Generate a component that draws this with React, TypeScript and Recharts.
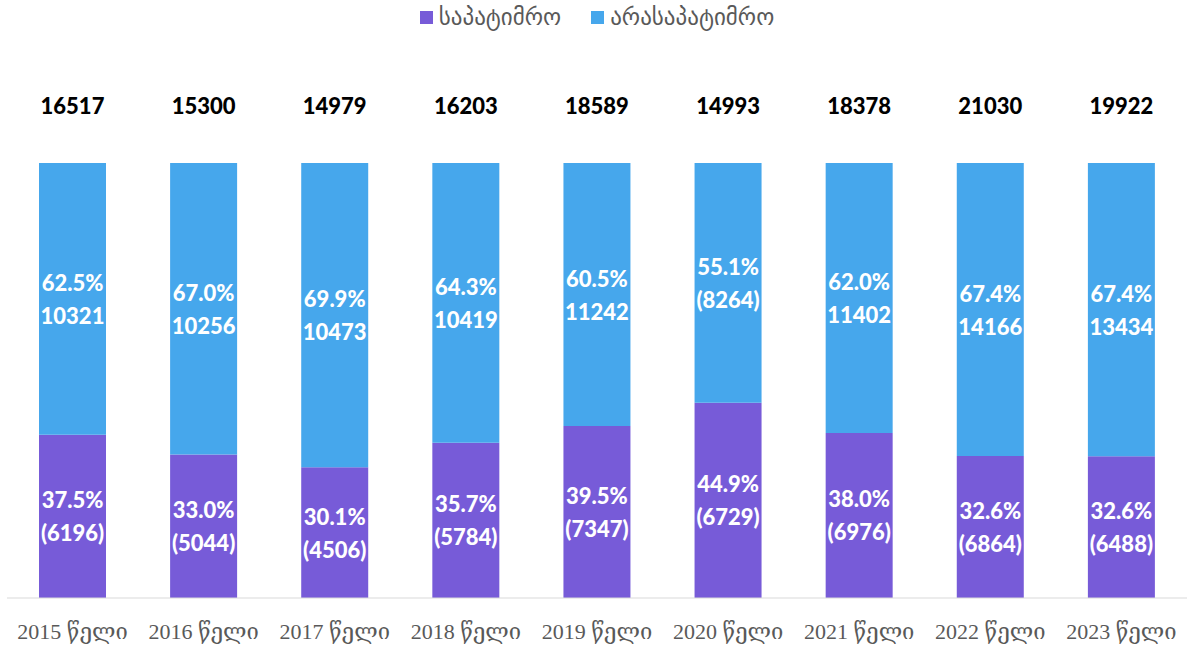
import React from 'react'
import { BarChart, Bar, XAxis, YAxis, Legend, LabelList } from 'recharts'

const years = ['2015 წელი', '2016 წელი', '2017 წელი', '2018 წელი', '2019 წელი', '2020 წელი', '2021 წელი', '2022 წელი', '2023 წელი']
const sentenced = [6196, 5044, 4506, 5784, 7347, 6729, 6976, 6864, 6488]
const notSentenced = [10321, 10256, 10473, 10419, 11242, 8264, 11402, 14166, 13434]
const totals = [16517, 15300, 14979, 16203, 18589, 14993, 18378, 21030, 19922]
const sentencedPct = ['37.5%', '33.0%', '30.1%', '35.7%', '39.5%', '44.9%', '38.0%', '32.6%', '32.6%']
const notSentencedPct = ['62.5%', '67.0%', '69.9%', '64.3%', '60.5%', '55.1%', '62.0%', '67.4%', '67.4%']
// the 2020 blue count is shown in brackets in the source
const notSentencedParens = [false, false, false, false, false, true, false, false, false]

const PURPLE = '#775bd8'
const BLUE = '#46a7ec'
const labelFont = 'Lato, "Open Sans", sans-serif'

const data = years.map((year, i) => ({
  year,
  sentenced: sentenced[i],
  notSentenced: notSentenced[i]
}))

const legendItems = [
  { name: 'საპატიმრო', color: PURPLE },
  { name: 'არასაპატიმრო', color: BLUE }
]

function segmentLabel(pct: string[], text: (i: number) => string) {
  return (props: any) => {
    const { x, y, width, height, index } = props
    const cx = x + width / 2
    const cy = y + height / 2
    return (
      <text
        textAnchor="middle"
        fill="#ffffff"
        fontFamily={labelFont}
        fontWeight={900}
        fontSize={22}
      >
        <tspan x={cx} y={cy - 8}>{pct[index]}</tspan>
        <tspan x={cx} y={cy + 25}>{text(index)}</tspan>
      </text>
    )
  }
}

const totalLabel = (props: any) => {
  const { x, width, index } = props
  return (
    <text
      x={x + width / 2}
      y={114}
      textAnchor="middle"
      fill="#000000"
      fontFamily={labelFont}
      fontWeight={900}
      fontSize={22}
    >
      {totals[index]}
    </text>
  )
}

const renderLegend = () => (
  <div style={{ display: 'flex', justifyContent: 'center', gap: 30, fontFamily: '"DejaVu Sans", sans-serif', fontSize: 23, color: '#595959' }}>
    {legendItems.map((item) => (
      <div key={item.name} style={{ display: 'flex', alignItems: 'center', gap: 6 }}>
        <span style={{ display: 'inline-block', width: 13, height: 13, background: item.color }} />
        <span>{item.name}</span>
      </div>
    ))}
  </div>
)

export default function App() {
  return (
    <div style={{ position: 'absolute', left: 0, top: 0, width: 1189, height: 646, background: '#fff' }}>
      <BarChart
        width={1189}
        height={646}
        data={data}
        stackOffset="expand"
        barSize={67}
        margin={{ top: 137, right: 2, bottom: 18, left: 7 }}
      >
        <XAxis
          dataKey="year"
          axisLine={{ stroke: '#d9d9d9' }}
          tickLine={false}
          tickMargin={19}
          height={30}
          tick={{ fill: '#595959', fontSize: 22, fontFamily: '"Liberation Serif", "DejaVu Serif", serif' }}
        />
        <YAxis hide domain={[0, 1]} />
        <Legend verticalAlign="top" align="center" wrapperStyle={{ top: 4 }} content={renderLegend} />
        <Bar dataKey="sentenced" name="საპატიმრო" stackId="a" fill={PURPLE} isAnimationActive={false}>
          <LabelList content={segmentLabel(sentencedPct, (i) => `(${sentenced[i]})`)} />
        </Bar>
        <Bar dataKey="notSentenced" name="არასაპატიმრო" stackId="a" fill={BLUE} isAnimationActive={false}>
          <LabelList
            content={segmentLabel(notSentencedPct, (i) =>
              notSentencedParens[i] ? `(${notSentenced[i]})` : `${notSentenced[i]}`
            )}
          />
          <LabelList content={totalLabel} />
        </Bar>
      </BarChart>
    </div>
  )
}
